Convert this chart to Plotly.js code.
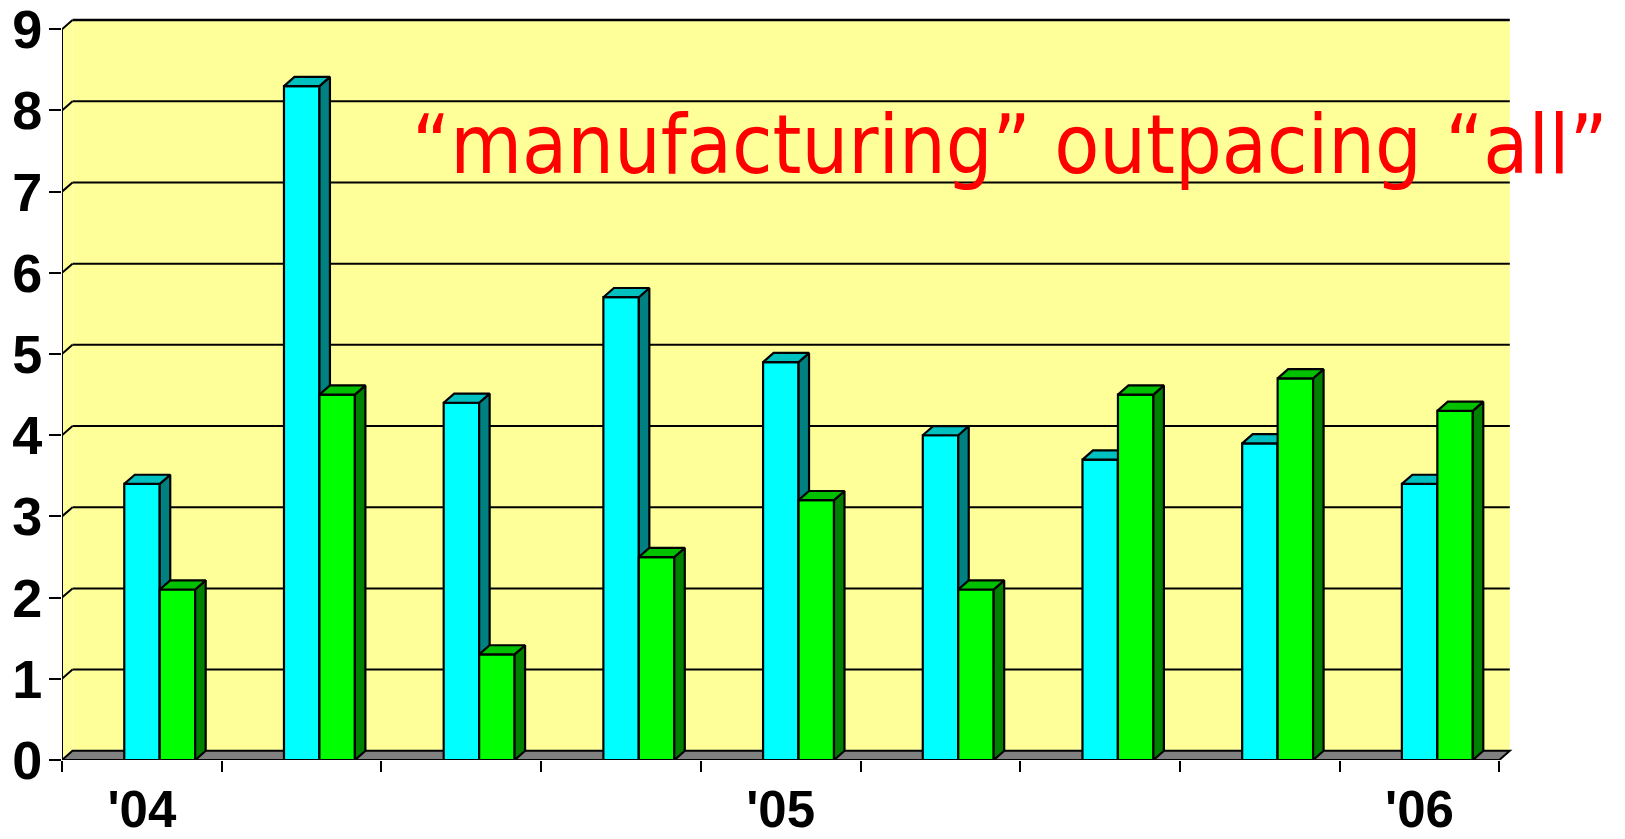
<!DOCTYPE html>
<html>
<head>
<meta charset="utf-8">
<script src="https://cdn.plot.ly/plotly-3.0.1.min.js"></script>
<style>
  html, body { margin: 0; padding: 0; background: #ffffff; }
  #chart { width: 1625px; height: 839px; }
</style>
</head>
<body>
<div id="chart"></div>
<script>
// ---- data (quarterly, Q1 '04 .. Q1 '06) ----
const quarters = ["Q1 '04", "Q2 '04", "Q3 '04", "Q4 '04", "Q1 '05", "Q2 '05", "Q3 '05", "Q4 '05", "Q1 '06"];
const allValues = [3.4, 8.3, 4.4, 5.7, 4.9, 4.0, 3.7, 3.9, 3.4];          // cyan series ("all")
const manufacturingValues = [2.1, 4.5, 1.3, 2.5, 3.2, 2.1, 4.5, 4.7, 4.3]; // green series ("manufacturing")
const yTickVals = [0, 1, 2, 3, 4, 5, 6, 7, 8, 9];
const xLabelPositions = [0, 4, 8];
const xLabelTexts = ["'04", "'05", "'06"];
const titleText = "\u201Cmanufacturing\u201D outpacing \u201Call\u201D";

// ---- geometry / style ----
const W = 1625, H = 839;
const M = { l: 62, r: 105, t: 15, b: 79 };
const plotW = W - M.l - M.r, plotH = H - M.t - M.b;
const PX_PER_CAT = 159.7, PX_PER_UNIT = 81.19;
const xRange = [-0.5, -0.5 + plotW / PX_PER_CAT];
const yRange = [0, plotH / PX_PER_UNIT];
const dxu = 10.5 / PX_PER_CAT;   // depth offset in x units
const dyu = 9.2 / PX_PER_UNIT;   // depth offset in y units
const BAR_W = 0.222, OFF_A = -0.11, OFF_M = 0.112;
const nCat = quarters.length;
const xIdx = quarters.map((_, i) => i);
const xLo = -0.5, xHi = nCat - 0.5, yTop = yTickVals[yTickVals.length - 1];

function faces(values, off) {
  const top = { x: [], y: [] }, side = { x: [], y: [] };
  values.forEach((h, i) => {
    const L = i + off, R = L + BAR_W;
    top.x.push(L, R, R + dxu, L + dxu, L, null);
    top.y.push(h, h, h + dyu, h + dyu, h, null);
    side.x.push(R, R, R + dxu, R + dxu, R, null);
    side.y.push(0, h, h + dyu, dyu, 0, null);
  });
  return { top, side };
}

const fa = faces(allValues, OFF_A);
const fm = faces(manufacturingValues, OFF_M);
const edge = { color: '#000000', width: 2.2 };

const traces = [
  { type: 'bar', name: 'all', x: xIdx, y: allValues, width: BAR_W, offset: OFF_A,
    marker: { color: '#00FFFF', line: edge }, xaxis: 'x', yaxis: 'y', hoverinfo: 'y' },
  { type: 'scatter', mode: 'lines', x: fa.side.x, y: fa.side.y, fill: 'toself', fillcolor: '#008080',
    line: edge, xaxis: 'x', yaxis: 'y', hoverinfo: 'skip' },
  { type: 'scatter', mode: 'lines', x: fa.top.x, y: fa.top.y, fill: 'toself', fillcolor: '#00C0C0',
    line: edge, xaxis: 'x', yaxis: 'y', hoverinfo: 'skip' },
  { type: 'bar', name: 'manufacturing', x: xIdx, y: manufacturingValues, width: BAR_W, offset: OFF_M,
    marker: { color: '#00FF00', line: edge }, xaxis: 'x2', yaxis: 'y', hoverinfo: 'y' },
  { type: 'scatter', mode: 'lines', x: fm.side.x, y: fm.side.y, fill: 'toself', fillcolor: '#008000',
    line: edge, xaxis: 'x2', yaxis: 'y', hoverinfo: 'skip' },
  { type: 'scatter', mode: 'lines', x: fm.top.x, y: fm.top.y, fill: 'toself', fillcolor: '#00C000',
    line: edge, xaxis: 'x2', yaxis: 'y', hoverinfo: 'skip' }
];

// walls, floor, gridlines (shapes in data coordinates)
const shapes = [];
shapes.push({ type: 'rect', xref: 'x', yref: 'y', layer: 'below',
  x0: xLo + dxu, x1: xHi + dxu, y0: dyu, y1: yTop + dyu,
  fillcolor: '#FFFF99', line: { width: 0 } });
shapes.push({ type: 'path', xref: 'x', yref: 'y', layer: 'below',
  path: `M ${xLo},0 L ${xLo},${yTop} L ${xLo + dxu},${yTop + dyu} L ${xLo + dxu},${dyu} Z`,
  fillcolor: '#FFFF99', line: { width: 0 } });
yTickVals.forEach(k => {
  if (k === 0) return;
  const w = (k === yTop) ? 2.5 : 2;
  shapes.push({ type: 'line', xref: 'x', yref: 'y', layer: 'below',
    x0: xLo + dxu, x1: xHi + dxu, y0: k + dyu, y1: k + dyu, line: { color: '#000000', width: w } });
  shapes.push({ type: 'line', xref: 'x', yref: 'y', layer: 'below',
    x0: xLo, x1: xLo + dxu, y0: k, y1: k + dyu, line: { color: '#000000', width: 2 } });
});
shapes.push({ type: 'path', xref: 'x', yref: 'y', layer: 'below',
  path: `M ${xLo},0 L ${xHi},0 L ${xHi + dxu},${dyu} L ${xLo + dxu},${dyu} Z`,
  fillcolor: '#808080', line: { color: '#000000', width: 2 } });
shapes.push({ type: 'line', xref: 'x', yref: 'y', layer: 'below',
  x0: xLo, x1: xLo, y0: 0, y1: yTop, line: { color: '#000000', width: 2 } });

const boundaryTicks = [];
for (let i = 0; i <= nCat; i++) boundaryTicks.push(i - 0.5);

const layout = {
  width: W, height: H,
  margin: M,
  paper_bgcolor: '#FFFFFF', plot_bgcolor: 'rgba(0,0,0,0)',
  showlegend: false,
  xaxis: { range: xRange, tickmode: 'array', tickvals: boundaryTicks, showticklabels: false,
    ticks: 'outside', ticklen: 11, tickwidth: 2, tickcolor: '#000000',
    showgrid: false, zeroline: false, showline: false, fixedrange: true },
  xaxis2: { overlaying: 'x', side: 'bottom', range: xRange, tickmode: 'array',
    tickvals: xLabelPositions, ticktext: xLabelTexts, ticks: '',
    tickfont: { family: 'Liberation Sans, Arial, sans-serif', size: 51, weight: 'bold', color: '#000000' },
    ticklabelstandoff: 15, ticklabeloverflow: 'allow',
    showgrid: false, zeroline: false, showline: false, fixedrange: true },
  yaxis: { range: yRange, tickmode: 'array', tickvals: yTickVals,
    ticks: 'outside', ticklen: 12, tickwidth: 2, tickcolor: '#000000',
    tickfont: { family: 'Liberation Sans, Arial, sans-serif', size: 54, weight: 'bold', color: '#000000' },
    ticklabelstandoff: -4, ticklabeloverflow: 'allow',
    showgrid: false, zeroline: false, showline: false, fixedrange: true },
  shapes: shapes,
  annotations: [{
    text: titleText, xref: 'paper', yref: 'paper', showarrow: false,
    x: (1010 - M.l) / plotW, xanchor: 'center',
    y: 1 - (144 - M.t) / plotH, yanchor: 'middle',
    font: { family: 'DejaVu Sans Condensed, DejaVu Sans, sans-serif', size: 82, color: '#FF0000' }
  }]
};

Plotly.newPlot('chart', traces, layout, { displayModeBar: false, staticPlot: true });
</script>
</body>
</html>
